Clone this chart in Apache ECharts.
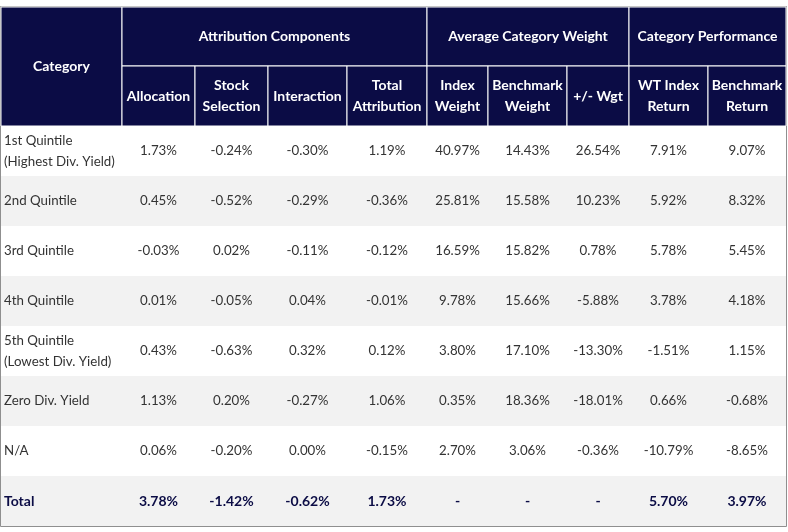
<!DOCTYPE html>
<html lang="en">
<head>
<meta charset="utf-8">
<script src="https://cdn.jsdelivr.net/npm/echarts@6/dist/echarts.min.js"></script>
<style>
  html, body { margin: 0; padding: 0; background: #fff; }
  #main { width: 788px; height: 532px; }
</style>
</head>
<body>
<div id="main"></div>
<script type="text/javascript">
    // table data
    var categories = ['1st Quintile\n(Highest Div. Yield)', '2nd Quintile', '3rd Quintile', '4th Quintile',
        '5th Quintile\n(Lowest Div. Yield)', 'Zero Div. Yield', 'N/A', 'Total'];
    var groupHeaders = ['Attribution Components', 'Average Category Weight', 'Category Performance'];
    var columnHeaders = ['Allocation', 'Stock\nSelection', 'Interaction', 'Total\nAttribution',
        'Index\nWeight', 'Benchmark\nWeight', '+/- Wgt', 'WT Index\nReturn', 'Benchmark\nReturn'];
    var allocation      = [1.73, 0.45, -0.03, 0.01, 0.43, 1.13, 0.06, 3.78];
    var stockSelection  = [-0.24, -0.52, 0.02, -0.05, -0.63, 0.20, -0.20, -1.42];
    var interaction     = [-0.30, -0.29, -0.11, 0.04, 0.32, -0.27, 0.00, -0.62];
    var totalAttrib     = [1.19, -0.36, -0.12, -0.01, 0.12, 1.06, -0.15, 1.73];
    var indexWeight     = [40.97, 25.81, 16.59, 9.78, 3.80, 0.35, 2.70, null];
    var benchWeight     = [14.43, 15.58, 15.82, 15.66, 17.10, 18.36, 3.06, null];
    var wgtDiff         = [26.54, 10.23, 0.78, -5.88, -13.30, -18.01, -0.36, null];
    var wtIndexReturn   = [7.91, 5.92, 5.78, 3.78, -1.51, 0.66, -10.79, 5.70];
    var benchReturn     = [9.07, 8.32, 5.45, 4.18, 1.15, -0.68, -8.65, 3.97];

    var columns = [allocation, stockSelection, interaction, totalAttrib,
        indexWeight, benchWeight, wgtDiff, wtIndexReturn, benchReturn];

    // layout (table units, mapped through the axes)
    var colEdges = [0, 121, 194, 267, 346, 426, 487, 566, 628, 707, 785];
    var groupSpans = [[1, 5], [5, 8], [8, 10]];
    var headMid = 59, headBottom = 119, rowH = 50;

    var NAVY = '#0b0c45';
    var FONT = 'Lato, "Noto Sans", sans-serif';

    // build cell list: [c0, c1, y0, y1, kind, text]
    var cells = [];
    cells.push([0, 1, 0, headBottom, 'head', 'Category']);
    groupSpans.forEach(function (s, i) {
        cells.push([s[0], s[1], 0, headMid, 'head', groupHeaders[i]]);
    });
    columnHeaders.forEach(function (h, i) {
        cells.push([i + 1, i + 2, headMid, headBottom, 'head', h]);
    });
    categories.forEach(function (cat, r) {
        var y0 = headBottom + r * rowH;
        var isTotal = r === categories.length - 1;
        var shade = r % 2 === 1 ? 'gray' : 'white';
        cells.push([0, 10, y0, y0 + rowH, 'bg-' + shade, '']);
        cells.push([0, 1, y0, y0 + rowH, isTotal ? 'labelB' : 'label', cat]);
        columns.forEach(function (col, c) {
            var v = col[r];
            var txt = v == null ? '-' : v.toFixed(2) + '%';
            cells.push([c + 1, c + 2, y0, y0 + rowH, isTotal ? 'valB' : 'val', txt]);
        });
    });

    var chart = echarts.init(document.getElementById('main'));
    chart.setOption({
        animation: false,
        grid: { left: 1, top: 7, width: 785, height: 519, show: true,
            borderColor: '#6b6b6b', borderWidth: 1.5, backgroundColor: 'transparent' },
        xAxis: { type: 'value', min: 0, max: 785, show: false },
        yAxis: { type: 'value', min: 0, max: 519, inverse: true, show: false },
        series: [{
            type: 'custom',
            coordinateSystem: 'cartesian2d',
            z: 1,
            data: cells.map(function (c) { return [c[0], c[1], c[2], c[3]]; }),
            renderItem: function (params, api) {
                var cell = cells[params.dataIndex];
                var p0 = api.coord([colEdges[cell[0]], cell[2]]);
                var p1 = api.coord([colEdges[cell[1]], cell[3]]);
                var x = p0[0], y = p0[1], w = p1[0] - p0[0], h = p1[1] - p0[1];
                var kind = cell[4];
                if (kind === 'bg-gray' || kind === 'bg-white') {
                    return { type: 'rect', shape: { x: x, y: y, width: w, height: h },
                        style: { fill: kind === 'bg-gray' ? '#f2f2f2' : '#ffffff' } };
                }
                var children = [];
                if (kind === 'head') {
                    children.push({ type: 'rect', shape: { x: x, y: y, width: w, height: h },
                        style: { fill: NAVY, stroke: '#ffffff', lineWidth: 1 } });
                }
                var isLabel = kind === 'label' || kind === 'labelB';
                var bold = kind === 'head' || kind === 'labelB' || kind === 'valB';
                children.push({
                    type: 'text',
                    z2: 10,
                    style: {
                        text: cell[5],
                        x: isLabel ? x + 3 : x + w / 2,
                        y: y + h / 2,
                        align: isLabel ? 'left' : 'center',
                        verticalAlign: 'middle',
                        fontFamily: FONT,
                        fontSize: bold ? 14 : 13.3,
                        fontWeight: bold ? 'bold' : 'normal',
                        lineHeight: 21,
                        fill: kind === 'head' ? '#ffffff' : (bold ? NAVY : '#333333')
                    }
                });
                return { type: 'group', children: children };
            }
        }]
    });
</script>
</body>
</html>
